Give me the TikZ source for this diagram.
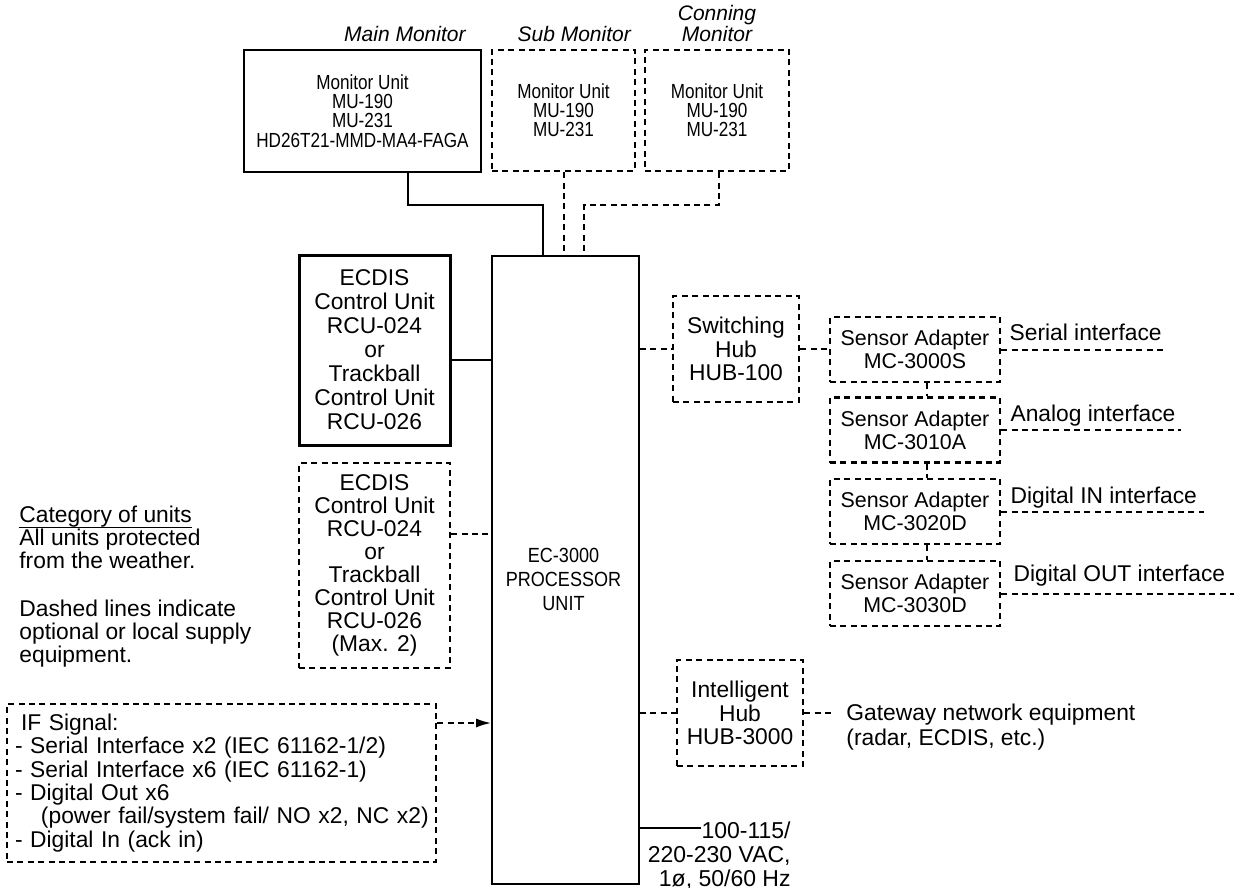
\documentclass[tikz,border=0pt]{standalone}
\usepackage{amsmath}
\usepackage{fontspec}
\setmainfont{Liberation Sans}
\newfontfamily\narrowsf[FakeStretch=0.88]{Liberation Sans}
\newfontfamily\condsf[FakeStretch=0.84]{Liberation Sans}
\newcommand{\ulinebox}[1]{\setbox0=\hbox{#1}\rlap{\rule[-2.4pt]{\wd0}{0.6pt}}#1}
\usetikzlibrary{arrows.meta, positioning, calc}
\tikzset{
    unitbox/.style={
        draw, line width=1pt,
        align=center, inner sep=0pt,
        font=\fontsize{11.4}{11.8}\selectfont
    },
    optbox/.style={unitbox, line width=1.2pt, dash pattern=on 3pt off 2.2pt},
    adapterbox/.style={optbox, minimum width=85pt, minimum height=32.5pt,
        font=\fontsize{10.7}{11.6}\selectfont},
    monfont/.style={font=\condsf\fontsize{10.2}{9.6}\selectfont},
    procfont/.style={font=\narrowsf\fontsize{10.25}{12}\selectfont, align=center, inner sep=0pt},
    montitle/.style={font=\itshape\fontsize{10.5}{10.5}\selectfont, align=center, inner sep=0pt},
    plaintext/.style={font=\fontsize{11.4}{11.3}\selectfont, align=left, inner sep=0pt},
    wire/.style={line width=1pt},
    optwire/.style={line width=1pt, dash pattern=on 3pt off 2.2pt},
}
\begin{document}
\begin{tikzpicture}[x=0.5pt, y=-0.5pt]
    \useasboundingbox (0,0) rectangle (1236,888);
    % monitors
    \node[unitbox, monfont, minimum width=118.5pt, minimum height=61pt] (mainmon) at (362.5,111)
          {Monitor Unit\\MU-190\\MU-231\\HD26T21-MMD-MA4-FAGA};
    \node[optbox, monfont, minimum width=71.5pt, minimum height=60.5pt] (submon) at (563.5,110.5)
          {Monitor Unit\\MU-190\\MU-231};
    \node[optbox, monfont, minimum width=72pt, minimum height=60.5pt] (conmon) at (717,110.5)
          {Monitor Unit\\MU-190\\MU-231};
    \node[montitle, above left=3.2pt and 8pt of mainmon.north east] (mainlbl) {Main Monitor};
    \node[montitle, above left=3.2pt and 2.5pt of submon.north east] (sublbl) {Sub Monitor};
    \node[montitle, above=3.2pt of conmon.north] (conlbl) {Conning\\Monitor};

    % processor
    \node[draw, line width=0.8pt, minimum width=73.5pt, minimum height=314pt] (proc) at (565.5,570) {};
    \node[procfont] (proclbl) at ($(proc.center)+(-2,9)$) {EC-3000\\PROCESSOR\\UNIT};

    \draw[wire, line width=1.2pt] ($(mainmon.south)+(45.5,0)$) |- ($(proc.north)+(-22.5,-50)$)
          -- ($(proc.north)+(-22.5,0)$);
    \draw[optwire] (submon.south) -- (submon.south |- proc.north);
    \draw[optwire] ($(conmon.south)+(2,0)$) |- ($(proc.north)+(18.5,-50)$)
          -- ($(proc.north)+(18.5,0)$);

    % control units
    \node[unitbox, line width=1.5pt, font=\fontsize{11.4}{12}\selectfont,
          minimum width=75.5pt, minimum height=95pt] (ecdis) at (374.5,350)
          {ECDIS\\Control Unit\\RCU-024\\or\\Trackball\\Control Unit\\RCU-026};
    \node[optbox, font=\fontsize{11.4}{11.5}\selectfont,
          minimum width=75.5pt, minimum height=102.5pt] (ecdisopt) at (374.5,565.5)
          {ECDIS\\Control Unit\\RCU-024\\or\\Trackball\\Control Unit\\RCU-026\\(Max. 2)};
    \coordinate (ecdisout) at ($(ecdis.east)+(0,10)$);
    \coordinate (ecdisoptout) at ($(ecdisopt.east)+(0,-31.5)$);
    \draw[wire, line width=0.8pt] (ecdisout) -- (ecdisout -| proc.west);
    \draw[optwire] (ecdisoptout) -- (ecdisoptout -| proc.west);

    % notes
    \node[plaintext, anchor=north west] (catnote) at (19,506)
          {\ulinebox{Category of units}\\All units protected\\from the weather.};
    \node[plaintext, anchor=north west] (dashnote) at (19,600)
          {Dashed lines indicate\\optional or local supply\\equipment.};

    % IF signal
    \node[optbox, align=left, text width=206.5pt, inner xsep=4pt, minimum height=79pt,
          font=\fontsize{11.4}{11.65}\selectfont] (ifbox) at (221.5,783)
          {\hspace*{3pt}IF Signal:\\- Serial Interface x2 (IEC 61162-1/2)\\- Serial Interface x6 (IEC 61162-1)\\- Digital Out x6\\\hspace*{13pt}\mbox{(power fail/system fail/ NO x2, NC x2)}\\- Digital In (ack in)};
    \coordinate (ifout) at ($(ifbox.east)+(0,-60)$);
    \draw[optwire, -{Latex[length=7.5pt, width=4.5pt]}] (ifout) -- (ifout -| proc.west);

    % hubs and sensor adapters
    \node[optbox, minimum width=63pt, minimum height=53pt] (swhub) at (736,349) {Switching\\Hub\\HUB-100};
    \node[adapterbox] (sa1) at (915,349.5) {Sensor Adapter\\MC-3000S};
    \node[adapterbox] (sa2) at (915,430) {Sensor Adapter\\MC-3010A};
    \node[adapterbox] (sa3) at (915,511.5) {Sensor Adapter\\MC-3020D};
    \node[adapterbox] (sa4) at (915,593.5) {Sensor Adapter\\MC-3030D};
    \draw[optwire] (proc.east |- swhub.west) -- (swhub.west);
    \draw[optwire] (swhub.east) -- (swhub.east -| sa1.west);
    \draw[optwire] ($(sa1.south)+(12,0)$) -- ($(sa2.north)+(12,0)$);
    \draw[optwire] ($(sa2.south)+(12,0)$) -- ($(sa3.north)+(12,0)$);
    \draw[optwire] ($(sa3.south)+(12,0)$) -- ($(sa4.north)+(12,0)$);

    \draw[optwire] (sa1.east) -- ++(163,0) coordinate (serialend);
    \draw[optwire] (sa2.east) -- ++(180,0) coordinate (analogend);
    \draw[optwire] (sa3.east) -- ++(203,0) coordinate (dinend);
    \draw[optwire] (sa4.east) -- ++(233,0) coordinate (doutend);
    \node[plaintext, anchor=base west] (seriallbl) at ($(sa1.east)+(8,-9)$) {Serial interface};
    \node[plaintext, anchor=base west] (analoglbl) at ($(sa2.east)+(9,-9)$) {Analog interface};
    \node[plaintext, anchor=base west] (dinlbl) at ($(sa3.east)+(9,-8)$) {Digital IN interface};
    \node[plaintext, anchor=base west] (doutlbl) at ($(sa4.east)+(12,-12)$) {Digital OUT interface};

    \node[optbox, minimum width=63pt, minimum height=53pt] (ihub) at (740,713) {Intelligent\\Hub\\HUB-3000};
    \draw[optwire] (proc.east |- ihub.west) -- (ihub.west);
    \draw[optwire] (ihub.east) -- ++(29,0) coordinate (gwend);
    \node[plaintext, font=\fontsize{11.4}{12.5}\selectfont, anchor=north west] (gateway) at (846,704)
          {Gateway network equipment\\(radar, ECDIS, etc.)};

    % power
    \draw[wire, line width=0.8pt] ($(proc.east)+(0,258)$) -- ++(61,0) coordinate (pwrend);
    \node[plaintext, align=right, font=\fontsize{11.5}{12}\selectfont, anchor=north east] (power) at (791,821)
          {100-115/\\220-230 VAC,\\1ø, 50/60 Hz};
\end{tikzpicture}
\end{document}
